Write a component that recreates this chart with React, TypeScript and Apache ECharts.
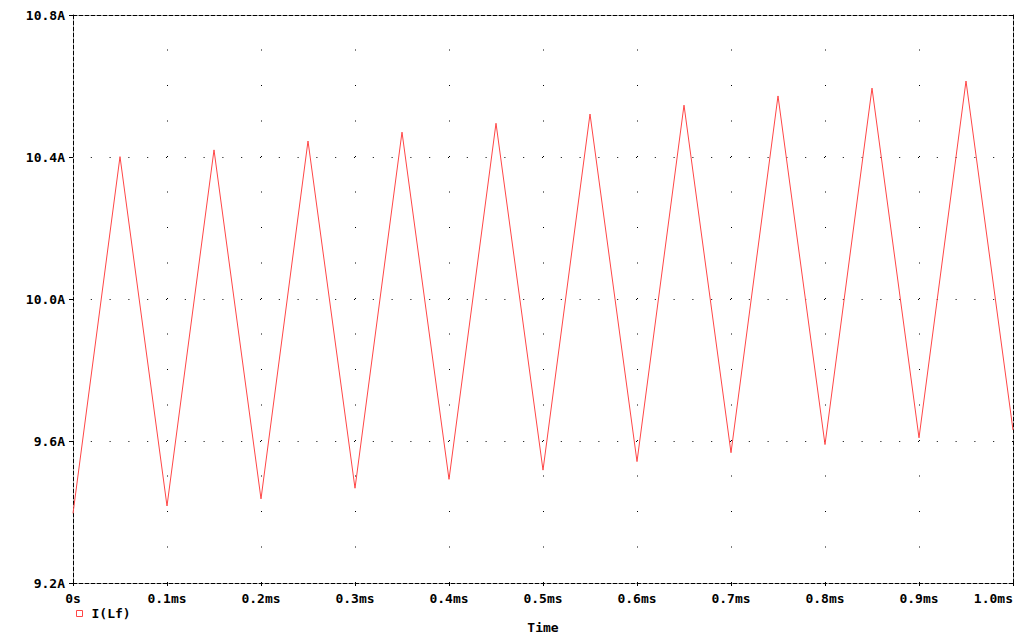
import React, { useEffect, useRef } from "react";
import * as echarts from "echarts";

const times = [0, 0.05, 0.1, 0.15, 0.2, 0.25, 0.3, 0.35, 0.4, 0.45, 0.5, 0.55, 0.6, 0.65, 0.7, 0.75, 0.8, 0.85, 0.9, 0.95, 1.0];
const currentLf = [9.396, 10.401, 9.417, 10.42, 9.437, 10.445, 9.467, 10.47, 9.492, 10.495, 9.518, 10.521, 9.542, 10.546, 9.567, 10.572, 9.59, 10.594, 9.609, 10.614, 9.631];
const seriesName = "I(Lf)";
const xAxisName = "Time";

const FONT = "'DejaVu Sans Mono', monospace";
const RED = "#ff4646";

export default function App() {
  const ref = useRef<HTMLDivElement>(null);
  useEffect(() => {
    if (!ref.current) return;
    const chart = echarts.init(ref.current, null, { renderer: "svg" });
    const dashed = { color: "#000", width: 1, type: [4, 2] as any };
    chart.setOption({
      animation: false,
      backgroundColor: "#fff",
      grid: { left: 73, top: 15, width: 940, height: 568, containLabel: false, outerBoundsMode: "none" },
      legend: {
        data: [seriesName],
        left: 71,
        top: 602,
        icon: "rect",
        itemWidth: 6,
        itemHeight: 6,
        itemStyle: { color: "#fff", borderColor: RED, borderWidth: 1 },
        textStyle: { fontFamily: FONT, fontWeight: "bold", fontSize: 13, color: "#000", padding: [0, 0, 0, 4] },
      },
      xAxis: [
        {
          type: "value",
          min: 0,
          max: 1,
          interval: 0.1,
          position: "bottom",
          name: xAxisName,
          nameLocation: "middle",
          nameGap: 38,
          nameTextStyle: { fontFamily: FONT, fontWeight: "bold", fontSize: 13, color: "#000" },
          axisLine: { show: true, lineStyle: dashed },
          axisTick: { show: true, length: 3, inside: false, lineStyle: { color: "#000" } },
          axisLabel: {
            fontFamily: FONT,
            fontWeight: "bold",
            fontSize: 13,
            color: "#000",
            margin: 9,
            alignMaxLabel: "right",
            formatter: (v: number) => (v === 0 ? "0s" : v.toFixed(1) + "ms"),
          },
          splitLine: {
            show: true,
            showMinLine: false,
            showMaxLine: false,
            lineStyle: { color: "#000", width: 1, type: [1, 34.5], dashOffset: 1 },
          },
        },
        {
          type: "value",
          min: 0,
          max: 1,
          position: "top",
          axisLine: { show: true, onZero: false, lineStyle: dashed },
          axisTick: { show: false },
          axisLabel: { show: false },
          splitLine: { show: false },
        },
      ],
      yAxis: [
        {
          type: "value",
          min: 9.2,
          max: 10.8,
          interval: 0.4,
          position: "left",
          axisLine: { show: true, lineStyle: dashed },
          axisTick: { show: true, length: 4, lineStyle: { color: "#000" } },
          axisLabel: {
            fontFamily: FONT,
            fontWeight: "bold",
            fontSize: 13,
            color: "#000",
            margin: 8,
            formatter: (v: number) => v.toFixed(1) + "A",
          },
          splitLine: {
            show: true,
            showMinLine: false,
            showMaxLine: false,
            lineStyle: { color: "#000", width: 1, type: [1, 17.8], dashOffset: 1 },
          },
        },
        {
          type: "value",
          min: 9.2,
          max: 10.8,
          position: "right",
          axisLine: { show: true, onZero: false, lineStyle: dashed },
          axisTick: { show: false },
          axisLabel: { show: false },
          splitLine: { show: false },
        },
      ],
      series: [
        {
          name: seriesName,
          type: "line",
          xAxisIndex: 0,
          yAxisIndex: 0,
          data: times.map((t, i) => [t, currentLf[i]]),
          symbol: "none",
          lineStyle: { color: RED, width: 1 },
          itemStyle: { color: RED },
        },
      ],
    });
    return () => chart.dispose();
  }, []);
  return (
    <div
      ref={ref}
      style={{ position: "fixed", left: 0, top: 0, width: 1020, height: 636, background: "#fff" }}
    />
  );
}
